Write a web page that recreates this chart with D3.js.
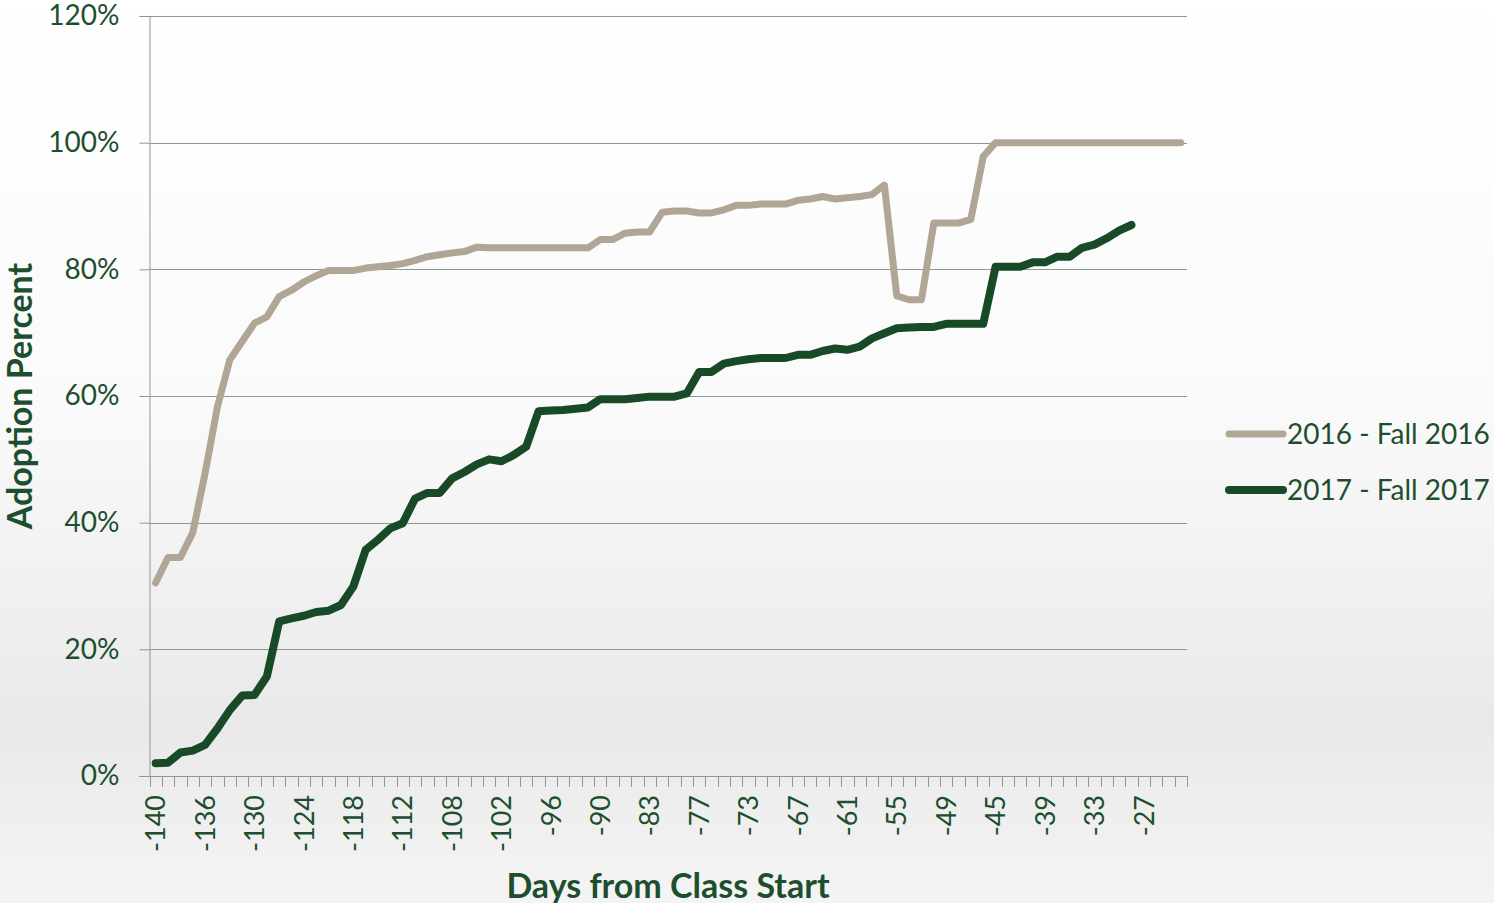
<!DOCTYPE html>
<html>
<head>
<meta charset="utf-8">
<script src="https://cdn.jsdelivr.net/npm/d3@7"></script>
<style>
  html, body { margin: 0; padding: 0; }
  body { width: 1494px; height: 903px; overflow: hidden; font-family: Lato, "Open Sans", sans-serif; }
</style>
</head>
<body>
<div id="chart"></div>
<script>
// Days from class start (one category per snapshot, only every 4th is labelled)
var days = [-140, -139, -138, -137, -136, -135, -133, -132, -130, -129, -127, -126,
  -124, -123, -121, -120, -118, -117, -115, -114, -112, -111, -110, -109,
  -108, -106, -105, -103, -102, -100, -99, -97, -96, -94, -93, -91,
  -90, -88, -86, -85, -83, -81, -80, -78, -77, -76, -75, -74,
  -73, -71, -70, -68, -67, -65, -64, -62, -61, -59, -58, -56,
  -55, -53, -52, -50, -49, -48, -47, -46, -45, -43, -42, -40,
  -39, -37, -36, -34, -33, -31, -30, -28, -27, -25, -24, -22];

var tickLabels = [-140, -136, -130, -124, -118, -112, -108, -102, -96, -90, -83,
  -77, -73, -67, -61, -55, -49, -45, -39, -33, -27];

var yTicks = [0, 20, 40, 60, 80, 100, 120];

// adoption percent, 2016 - Fall 2016
var fall2016 = [30.5, 34.5, 34.5, 38.4, 47.8, 58.3, 65.7, 68.6, 71.5, 72.5, 75.7, 76.7,
  78.0, 79.0, 79.8, 79.8, 79.8, 80.2, 80.4, 80.6, 80.9, 81.4, 82.0, 82.3,
  82.6, 82.8, 83.5, 83.4, 83.4, 83.4, 83.4, 83.4, 83.4, 83.4, 83.4, 83.4,
  84.7, 84.7, 85.7, 85.9, 85.9, 89.0, 89.2, 89.2, 88.9, 88.9, 89.4, 90.1,
  90.1, 90.3, 90.3, 90.3, 90.9, 91.1, 91.5, 91.1, 91.3, 91.5, 91.8, 93.3,
  75.8, 75.2, 75.2, 87.3, 87.3, 87.3, 87.9, 97.8, 100, 100, 100, 100,
  100, 100, 100, 100, 100, 100, 100, 100, 100, 100, 100, 100];

// adoption percent, 2017 - Fall 2017 (stops at -28)
var fall2017 = [2.0, 2.1, 3.7, 4.0, 4.9, 7.5, 10.4, 12.7, 12.8, 15.7, 24.4, 24.9,
  25.3, 25.9, 26.1, 27.0, 29.9, 35.7, 37.3, 39.1, 39.9, 43.8, 44.7, 44.7,
  47.0, 48.0, 49.2, 50.0, 49.7, 50.7, 52.0, 57.6, 57.7, 57.8, 58.0, 58.2,
  59.5, 59.5, 59.5, 59.7, 59.9, 59.9, 59.9, 60.4, 63.8, 63.8, 65.1, 65.5,
  65.8, 66.0, 66.0, 66.0, 66.5, 66.5, 67.1, 67.5, 67.3, 67.8, 69.1, 69.9,
  70.7, 70.8, 70.9, 70.9, 71.4, 71.4, 71.4, 71.4, 80.4, 80.4, 80.4, 81.1,
  81.1, 82.0, 82.0, 83.4, 83.9, 84.9, 86.1, 87.0, null, null, null, null];

var seriesNames = ["2016 - Fall 2016", "2017 - Fall 2017"];
var seriesColors = ["#b1a596", "#184a28"];

(function() {
    var W = 1494, H = 903;
    var margin = {top: 16, right: 307, bottom: 127, left: 149.5};
    var textColor = "#1d4f2e", gridColor = "#8e9893";

    var svg = d3.select("#chart").append("svg")
        .attr("width", W)
        .attr("height", H);

    // slide background gradient
    var grad = svg.append("defs").append("linearGradient")
        .attr("id", "bg").attr("x1", 0).attr("y1", 0).attr("x2", 0).attr("y2", 1);
    [[0, "#ffffff"], [0.45, "#fafafa"], [0.7, "#eeeeee"], [0.8, "#e9e9e9"], [1, "#f4f4f4"]]
        .forEach(function(s) { grad.append("stop").attr("offset", s[0]).attr("stop-color", s[1]); });
    svg.append("rect").attr("width", W).attr("height", H).attr("fill", "url(#bg)");

    var x = d3.scaleBand()
        .domain(days)
        .range([margin.left, W - margin.right]);

    var y = d3.scaleLinear()
        .domain([0, 120])
        .range([H - margin.bottom, margin.top]);

    var x0 = margin.left, x1 = W - margin.right, yb = H - margin.bottom;

    // gridlines
    svg.append("g").selectAll("line")
        .data(yTicks.filter(function(d) { return d > 0; }))
        .enter().append("line")
        .attr("x1", x0).attr("x2", x1)
        .attr("y1", function(d) { return Math.round(y(d)) + 0.5; })
        .attr("y2", function(d) { return Math.round(y(d)) + 0.5; })
        .attr("stroke", gridColor).attr("stroke-width", 1);

    // Y axis
    var yAxis = svg.append("g")
        .attr("transform", "translate(" + x0 + ",0)")
        .call(d3.axisLeft(y).tickValues(yTicks).tickSize(10).tickPadding(20)
            .tickFormat(function(d) { return d + "%"; }));
    yAxis.select(".domain").attr("stroke", gridColor);
    yAxis.selectAll(".tick line").attr("stroke", gridColor);
    yAxis.selectAll("text")
        .attr("fill", textColor)
        .style("font-size", "28px")
        .style("font-family", "Lato, sans-serif");

    // X axis: line, a tick at every category boundary, labels on every 4th category
    var xAxis = svg.append("g")
        .attr("transform", "translate(0," + yb + ")")
        .call(d3.axisBottom(x).tickValues(tickLabels).tickSize(0).tickPadding(0));
    xAxis.select(".domain").attr("stroke", gridColor);
    xAxis.selectAll("text")
        .attr("fill", textColor)
        .attr("transform", "rotate(-90)")
        .attr("x", -19)
        .attr("y", 0)
        .attr("dy", "0.36em")
        .style("text-anchor", "end")
        .style("font-size", "27px")
        .style("font-family", "Lato, sans-serif");

    var bounds = days.map(function(d) { return x(d); }).concat([x1]);
    xAxis.append("g").selectAll("line")
        .data(bounds)
        .enter().append("line")
        .attr("x1", function(d) { return Math.round(d) + 0.5; })
        .attr("x2", function(d) { return Math.round(d) + 0.5; })
        .attr("y1", 0).attr("y2", 11)
        .attr("stroke", gridColor);

    // axis titles
    svg.append("text")
        .attr("x", 668)
        .attr("y", 898)
        .attr("text-anchor", "middle")
        .attr("fill", textColor)
        .style("font-size", "34px")
        .style("font-weight", "bold")
        .text("Days from Class Start");

    svg.append("text")
        .attr("transform", "translate(32," + 396 + ") rotate(-90)")
        .attr("text-anchor", "middle")
        .attr("fill", textColor)
        .style("font-size", "34px")
        .style("font-weight", "bold")
        .text("Adoption Percent");

    // series lines
    var line = d3.line()
        .defined(function(d) { return d.v != null; })
        .x(function(d) { return x(d.day) + x.bandwidth() / 2; })
        .y(function(d) { return y(d.v); });

    [fall2016, fall2017].forEach(function(vals, i) {
        var pts = vals.map(function(v, j) { return {day: days[j], v: v}; });
        svg.append("path")
            .datum(pts)
            .attr("fill", "none")
            .attr("stroke", seriesColors[i])
            .attr("stroke-width", i === 0 ? 7 : 8)
            .attr("stroke-linejoin", "round")
            .attr("stroke-linecap", "round")
            .attr("d", line);
    });

    // legend
    var legend = svg.append("g").attr("transform", "translate(1229,434)");
    seriesNames.forEach(function(name, i) {
        var g = legend.append("g").attr("transform", "translate(0," + (i * 56) + ")");
        g.append("line")
            .attr("x1", 0).attr("x2", 54).attr("y1", 0).attr("y2", 0)
            .attr("stroke", seriesColors[i])
            .attr("stroke-width", i === 0 ? 7 : 8)
            .attr("stroke-linecap", "round");
        g.append("text")
            .attr("x", 58).attr("y", 0).attr("dy", "0.36em")
            .attr("fill", textColor)
            .style("font-size", "28px")
            .text(name);
    });
})();
</script>
</body>
</html>
